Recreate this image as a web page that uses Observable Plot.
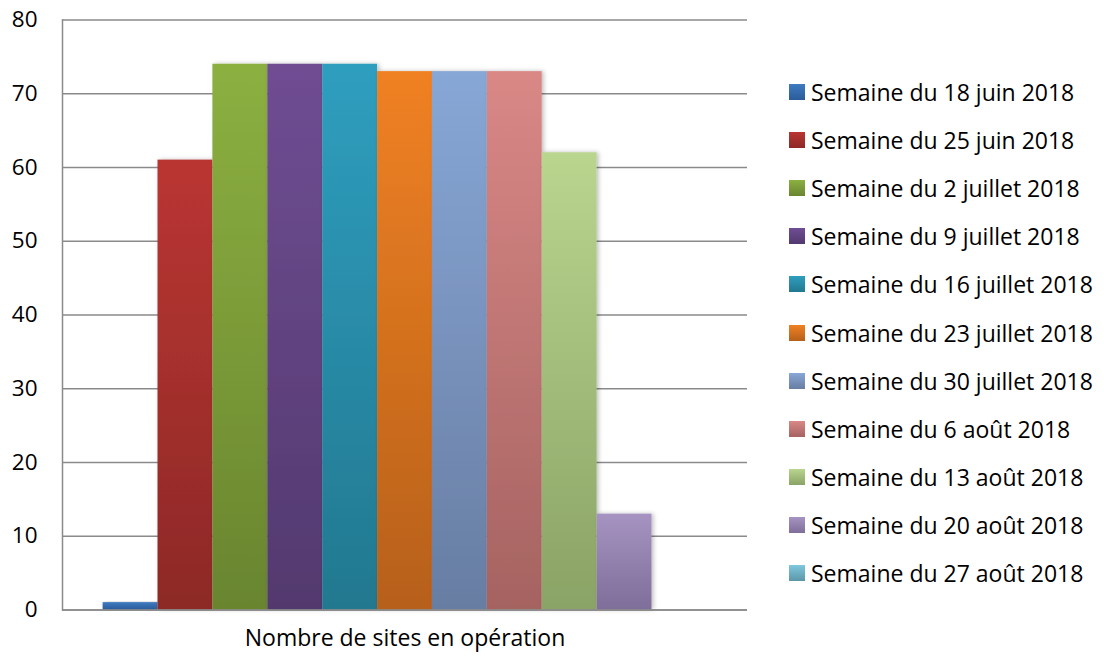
<!DOCTYPE html>
<html>
<head>
<meta charset="utf-8">
<script src="https://cdn.jsdelivr.net/npm/d3@7"></script>
<script src="https://cdn.jsdelivr.net/npm/@observablehq/plot@0.6"></script>
<style>
  html, body { margin: 0; padding: 0; background: #fff; }
  #wrap { display: flex; width: 1104px; height: 660px; font-family: "Open Sans", sans-serif; }
  #legend { margin-left: 29px; padding-top: 68px; }
  .row { height: 48.1px; display: flex; align-items: center; font-size: 23px; color: #000; white-space: nowrap; }
  .sw { width: 16px; height: 16px; margin-right: 6px; flex: none; }
</style>
</head>
<body>
<div id="wrap"><div id="chart"></div><div id="legend"></div></div>
<script>
const category = "Nombre de sites en opération";
const series = [
  "Semaine du 18 juin 2018",
  "Semaine du 25 juin 2018",
  "Semaine du 2 juillet 2018",
  "Semaine du 9 juillet 2018",
  "Semaine du 16 juillet 2018",
  "Semaine du 23 juillet 2018",
  "Semaine du 30 juillet 2018",
  "Semaine du 6 août 2018",
  "Semaine du 13 août 2018",
  "Semaine du 20 août 2018",
  "Semaine du 27 août 2018"
];
const values = [1, 61, 74, 74, 74, 73, 73, 73, 62, 13, 0];
const yTicks = [0, 10, 20, 30, 40, 50, 60, 70, 80];
const topColors = ["#3F7BC1", "#BA3532", "#8CB041", "#6F4D93", "#2F9EBF", "#F08123", "#87A7D6", "#D98886", "#B9D58E", "#A693C1", "#7FC8DD"];
const bottomColors = ["#2A5C99", "#8D2927", "#69852F", "#52396E", "#22788F", "#B6601A", "#687DA2", "#A56361", "#8AA366", "#7E6E99", "#5B97A8"];

const data = series.map((s, i) => ({cat: category, series: s, value: values[i]}));
const gradIds = series.map((s, i) => "grad" + i);

const plot = Plot.plot({
  width: 760,
  height: 660,
  marginLeft: 62,
  marginRight: 13,
  marginTop: 19.5,
  marginBottom: 50.5,
  style: {fontFamily: "Open Sans, sans-serif", color: "#000", background: "#fff"},
  fx: {domain: [category], padding: 0, label: null, round: false},
  x: {domain: series, paddingInner: 0, paddingOuter: 0.74, axis: null, round: false},
  y: {domain: [0, 80], ticks: yTicks, label: null},
  color: {type: "ordinal", domain: series, range: gradIds.map(id => `url(#${id})`)},
  marks: [
    Plot.gridY(yTicks, {stroke: "#8a8a8a", strokeOpacity: 1, strokeWidth: 1.5}),
    Plot.axisY(yTicks, {tickSize: 0, tickPadding: 25, fontSize: 22.5, label: null}),
    Plot.barY(data, {fx: "cat", x: "series", y: "value", fill: "series", inset: 0}),
    Plot.frame({anchor: "left", stroke: "#8a8a8a", strokeWidth: 1.5}),
    Plot.ruleY([0], {stroke: "#8a8a8a", strokeWidth: 1.5}),
    Plot.axisFx({anchor: "bottom", tickSize: 0, tickPadding: 20, fontSize: 23, label: null})
  ]
});

const svg = d3.select(plot);
const defs = svg.insert("defs", ":first-child");
const f = defs.append("filter").attr("id", "shadow").attr("x", "-10%").attr("y", "-10%").attr("width", "130%").attr("height", "130%");
f.append("feDropShadow").attr("dx", 2).attr("dy", 0).attr("stdDeviation", 2).attr("flood-color", "#000").attr("flood-opacity", 0.25);
series.forEach((s, i) => {
  const g = defs.append("linearGradient").attr("id", gradIds[i]).attr("x1", 0).attr("y1", 0).attr("x2", 0).attr("y2", 1);
  g.append("stop").attr("offset", "0%").attr("stop-color", topColors[i]);
  g.append("stop").attr("offset", "100%").attr("stop-color", bottomColors[i]);
});
svg.selectAll("rect").filter(function() { return (this.getAttribute("fill") || "").startsWith("url(#grad"); })
  .attr("filter", "url(#shadow)");
document.getElementById("chart").appendChild(plot);

const legend = d3.select("#legend");
series.forEach((s, i) => {
  const row = legend.append("div").attr("class", "row");
  row.append("div").attr("class", "sw").style("background", `linear-gradient(${topColors[i]}, ${bottomColors[i]})`);
  row.append("span").text(s);
});
</script>
</body>
</html>
